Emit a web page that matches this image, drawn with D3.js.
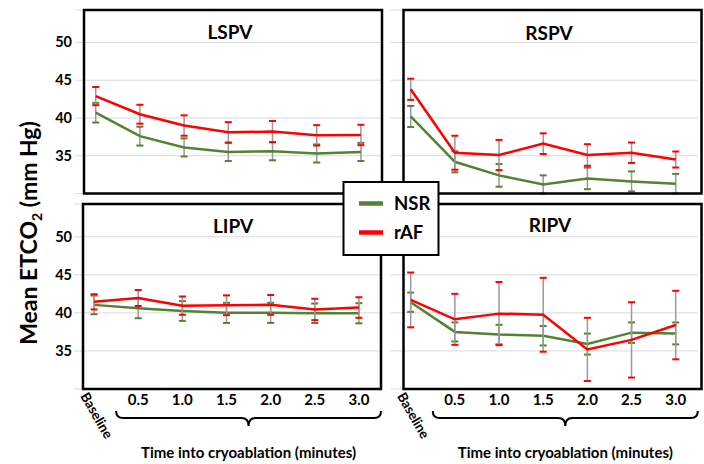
<!DOCTYPE html>
<html>
<head>
<meta charset="utf-8" />
<script src="https://cdnjs.cloudflare.com/ajax/libs/d3/7.8.5/d3.min.js"></script>
<style>
  body { margin: 0; background: white; }
  svg { display: block; font-family: Lato, "Open Sans", sans-serif; font-weight: bold; }
</style>
</head>
<body>
<div id="chart"></div>
<script>
// categories along x
var categories = ["Baseline", "0.5", "1.0", "1.5", "2.0", "2.5", "3.0"];
var yTicks = [35, 40, 45, 50];
var gridTicks = [30, 35, 40, 45, 50];

// mean ETCO2 and error per vein
var lspvNsr = [40.7, 37.6, 36.1, 35.5, 35.6, 35.3, 35.5];
var lspvNsrErr = [1.3, 1.25, 1.2, 1.2, 1.2, 1.2, 1.2];
var lspvRaf = [42.9, 40.5, 39.0, 38.1, 38.2, 37.7, 37.75];
var lspvRafErr = [1.2, 1.25, 1.35, 1.35, 1.4, 1.35, 1.35];

var rspvNsr = [40.2, 34.2, 32.4, 31.2, 32.0, 31.6, 31.3];
var rspvNsrErr = [1.4, 1.4, 1.5, 1.2, 1.43, 1.33, 1.3];
var rspvRaf = [43.8, 35.4, 35.1, 36.6, 35.1, 35.4, 34.5];
var rspvRafErr = [1.4, 2.25, 2.0, 1.37, 1.43, 1.35, 1.06];

var lipvNsr = [41.05, 40.6, 40.25, 40.0, 40.0, 39.95, 39.95];
var lipvNsrErr = [1.23, 1.3, 1.3, 1.32, 1.32, 1.28, 1.32];
var lipvRaf = [41.45, 41.95, 40.95, 41.0, 41.05, 40.45, 40.7];
var lipvRafErr = [1.0, 1.05, 1.2, 1.3, 1.3, 1.4, 1.35];

var ripvNsr = [41.4, 37.5, 37.15, 37.0, 35.9, 37.4, 37.3];
var ripvNsrErr = [1.27, 1.25, 1.28, 1.28, 1.38, 1.35, 1.44];
var ripvRaf = [41.7, 39.15, 39.9, 39.75, 35.2, 36.45, 38.4];
var ripvRafErr = [3.6, 3.35, 4.15, 4.85, 4.15, 4.95, 4.5];

var green = "#548235", red = "#ff0000";

var svg = d3.select("#chart").append("svg")
    .attr("width", 704)
    .attr("height", 464);

var panels = [
  {name: "LSPV", nsr: lspvNsr, nsrErr: lspvNsrErr, raf: lspvRaf, rafErr: lspvRafErr,
   xr: [73.6, 383], yr: [193.5, 10], box: [84, 10, 382, 193.5], title: [230, 38.5], left: true, bottom: false},
  {name: "RSPV", nsr: rspvNsr, nsrErr: rspvNsrErr, raf: rspvRaf, rafErr: rspvRafErr,
   xr: [388.6, 697.8], yr: [193.5, 10], box: [403.5, 10, 701.5, 193.5], title: [549, 40], left: false, bottom: false},
  {name: "LIPV", nsr: lipvNsr, nsrErr: lipvNsrErr, raf: lipvRaf, rafErr: lipvRafErr,
   xr: [72, 381], yr: [389, 204], box: [83, 204, 381, 389], title: [233, 232.5], left: true, bottom: true},
  {name: "RIPV", nsr: ripvNsr, nsrErr: ripvNsrErr, raf: ripvRaf, rafErr: ripvRafErr,
   xr: [388.6, 697.8], yr: [389, 204], box: [403.5, 204, 701.5, 389], title: [550, 232], left: false, bottom: true}
];

panels.forEach(function (p) {
  var x = d3.scalePoint().domain(categories).range(p.xr).padding(0.5);
  var y = d3.scaleLinear().domain([30, 54.3]).range(p.yr);
  var g = svg.append("g");

  // gridlines
  g.selectAll(".grid")
    .data(gridTicks.concat([54.3]))
    .enter().append("line")
    .attr("x1", p.xr[0] + 2).attr("x2", p.xr[1])
    .attr("y1", function (d) { return y(d); })
    .attr("y2", function (d) { return y(d); })
    .style("stroke", "#d9d9d9").style("stroke-width", 1);

  if (p.left) {
    g.selectAll(".ylab")
      .data(yTicks)
      .enter().append("text")
      .attr("x", 72)
      .attr("y", function (d) { return y(d) + 5; })
      .attr("text-anchor", "end")
      .style("font-size", "14.5px")
      .text(function (d) { return d; });
  }

  var series = [
    {vals: p.nsr, err: p.nsrErr, color: green},
    {vals: p.raf, err: p.rafErr, color: red}
  ];

  series.forEach(function (s) {
    var pts = categories.map(function (c, i) { return {c: c, v: s.vals[i], e: s.err[i]}; });
    var eb = g.append("g");
    eb.selectAll("line.stem")
      .data(pts).enter().append("line")
      .attr("x1", function (d) { return x(d.c); })
      .attr("x2", function (d) { return x(d.c); })
      .attr("y1", function (d) { return y(d.v + d.e); })
      .attr("y2", function (d) { return y(d.v - d.e); })
      .style("stroke", "#9a9a9a").style("stroke-width", 1.5);
    [1, -1].forEach(function (sgn) {
      eb.selectAll("line.cap" + sgn)
        .data(pts).enter().append("line")
        .attr("x1", function (d) { return x(d.c) - 3.5; })
        .attr("x2", function (d) { return x(d.c) + 3.5; })
        .attr("y1", function (d) { return y(d.v + sgn * d.e); })
        .attr("y2", function (d) { return y(d.v + sgn * d.e); })
        .style("stroke", s.color).style("stroke-width", 2);
    });
    g.append("path")
      .datum(pts)
      .attr("d", d3.line().x(function (d) { return x(d.c); }).y(function (d) { return y(d.v); }))
      .style("fill", "none")
      .style("stroke", s.color)
      .style("stroke-width", 2.5);
  });

  // box
  g.append("rect")
    .attr("x", p.box[0]).attr("y", p.box[1])
    .attr("width", p.box[2] - p.box[0]).attr("height", p.box[3] - p.box[1])
    .style("fill", "none").style("stroke", "black").style("stroke-width", 2.5);

  g.append("text")
    .attr("x", p.title[0]).attr("y", p.title[1])
    .attr("text-anchor", "middle")
    .style("font-size", "19px")
    .text(p.name);

  if (p.bottom) {
    categories.forEach(function (c, i) {
      if (i === 0) {
        g.append("text")
          .attr("transform", "translate(" + (x(c) - 14) + ",396) rotate(60)")
          .style("font-size", "13.5px")
          .text(c);
      } else {
        g.append("text")
          .attr("x", x(c)).attr("y", 405)
          .attr("text-anchor", "middle")
          .style("font-size", "15px")
          .text(c);
      }
    });
    // brace over the cryoablation times
    var step = x.step();
    var bx0 = x(categories[1]) - step / 2, bx1 = x(categories[categories.length - 1]) + step / 2;
    var cx = (bx0 + bx1) / 2, y0 = 411, y1 = 418, y2 = 426, r = 7;
    g.append("path")
      .attr("d", "M" + bx0 + "," + y0 + " Q" + bx0 + "," + y1 + " " + (bx0 + r) + "," + y1 +
        " L" + (cx - r) + "," + y1 + " Q" + cx + "," + y1 + " " + cx + "," + y2 +
        " Q" + cx + "," + y1 + " " + (cx + r) + "," + y1 +
        " L" + (bx1 - r) + "," + y1 + " Q" + bx1 + "," + y1 + " " + bx1 + "," + y0)
      .style("fill", "none").style("stroke", "black").style("stroke-width", 2);
    g.append("text")
      .attr("x", cx).attr("y", 458)
      .attr("text-anchor", "middle")
      .style("font-size", "15px")
      .text("Time into cryoablation (minutes)");
  }
});

// y axis title
var yt = svg.append("text")
  .attr("transform", "translate(37,233) rotate(-90)")
  .attr("text-anchor", "middle")
  .style("font-size", "23px");
yt.append("tspan").text("Mean ETCO");
yt.append("tspan").attr("dy", 5).style("font-size", "14px").text("2");
yt.append("tspan").attr("dy", -5).text(" (mm Hg)");

// legend
var leg = svg.append("g");
leg.append("rect")
  .attr("x", 343.5).attr("y", 182).attr("width", 95).attr("height", 73)
  .style("fill", "white").style("stroke", "black").style("stroke-width", 2);
[{k: "NSR", c: green, y: 203.5}, {k: "rAF", c: red, y: 232.5}].forEach(function (d) {
  leg.append("line")
    .attr("x1", 359).attr("x2", 383).attr("y1", d.y).attr("y2", d.y)
    .style("stroke", d.c).style("stroke-width", 4.5);
  leg.append("text")
    .attr("x", 394).attr("y", d.y + 6.5)
    .style("font-size", "18.5px")
    .text(d.k);
});
</script>
</body>
</html>
